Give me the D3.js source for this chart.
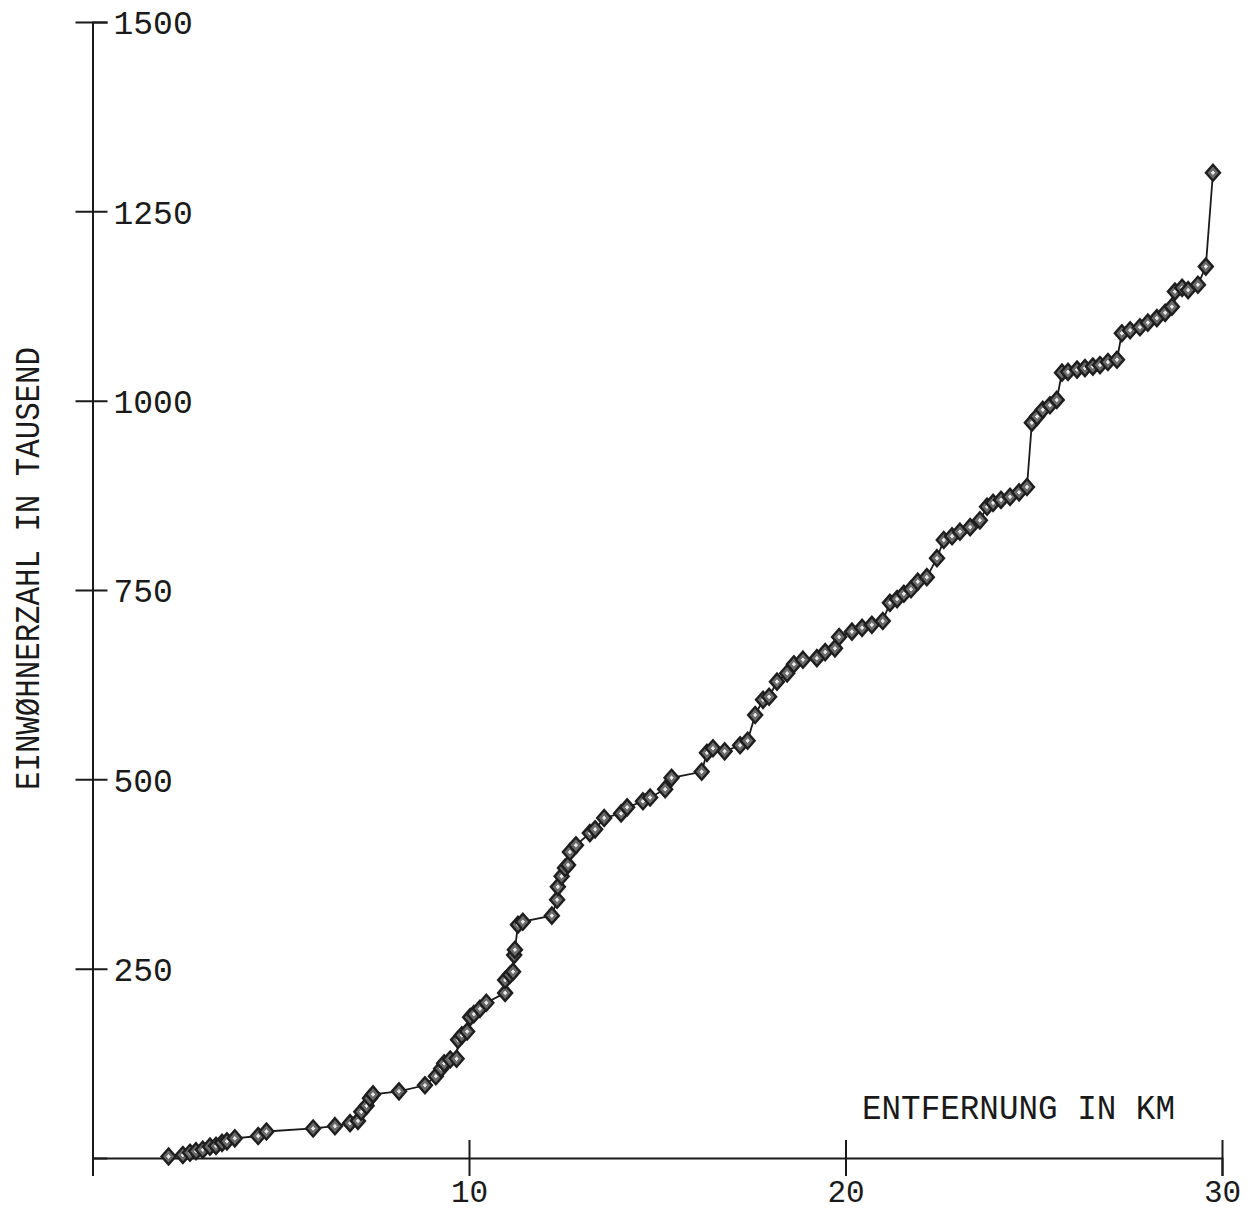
<!DOCTYPE html>
<html>
<head>
<meta charset="utf-8">
<script src="https://cdn.jsdelivr.net/npm/d3@7"></script>
<style>
  html, body { margin: 0; padding: 0; background: #fff; }
  svg { display: block; }
  text { font-family: "Liberation Mono", "DejaVu Sans Mono", monospace; fill: #1a1a1a; }
</style>
</head>
<body>
<svg id="chart" width="1247" height="1212"></svg>
<script>
// Cumulative population (thousands) against distance from the site (km)
const distanceKm = [
  2.02, 2.40, 2.59, 2.75, 2.93, 3.12, 3.28, 3.44, 3.57, 3.78,
  4.40, 4.62, 5.86, 6.44, 6.84, 7.05, 7.14, 7.28, 7.37, 7.45,
  8.14, 8.83, 9.12, 9.26, 9.34, 9.50, 9.67, 9.71, 9.81, 9.95,
  10.03, 10.13, 10.29, 10.46, 10.96, 10.96, 11.09, 11.17, 11.20, 11.22,
  11.30, 11.43, 12.20, 12.34, 12.36, 12.46, 12.55, 12.63, 12.68, 12.84,
  13.21, 13.35, 13.59, 14.04, 14.20, 14.62, 14.81, 15.21, 15.38, 16.18,
  16.32, 16.48, 16.79, 17.20, 17.40, 17.60, 17.81, 17.97, 18.18, 18.45,
  18.63, 18.87, 19.24, 19.46, 19.72, 19.83, 20.17, 20.44, 20.70, 20.99,
  21.18, 21.37, 21.55, 21.74, 21.92, 22.16, 22.43, 22.61, 22.83, 23.04,
  23.31, 23.57, 23.76, 23.92, 24.13, 24.37, 24.61, 24.82, 24.95, 25.09,
  25.24, 25.43, 25.61, 25.75, 25.91, 26.15, 26.36, 26.57, 26.76, 26.97,
  27.21, 27.34, 27.56, 27.82, 28.03, 28.27, 28.49, 28.67, 28.75, 28.94,
  29.10, 29.36, 29.57, 29.76
];
const populationThousand = [
  2, 4, 7, 9, 11, 15, 16, 20, 22, 26,
  29, 35, 39, 42, 46, 49, 61, 69, 79, 84,
  88, 96, 108, 118, 125, 130, 131, 156, 162, 167,
  186, 190, 197, 205, 218, 235, 242, 246, 268, 275,
  308, 312, 320, 341, 358, 372, 383, 387, 404, 413,
  429, 434, 449, 455, 463, 471, 476, 487, 502, 510,
  535, 541, 537, 545, 551, 585, 605, 609, 629, 640,
  652, 658, 660, 668, 673, 688, 695, 700, 704, 709,
  733, 738, 745, 751, 761, 767, 792, 816, 821, 827,
  833, 842, 860, 865, 869, 873, 879, 886, 971, 979,
  988, 994, 1001, 1037, 1038, 1041, 1043, 1045, 1047, 1051,
  1054, 1089, 1093, 1097, 1103, 1109, 1116, 1124, 1144, 1149,
  1146, 1153, 1177, 1301
];
const xTickValues = [10, 20, 30];
const yTickValues = [250, 500, 750, 1000, 1250, 1500];
const xTitle = "ENTFERNUNG IN KM";
const yTitle = "EINWØHNERZAHL IN TAUSEND";

const svg = d3.select("#chart");
const ink = "#1a1a1a";

const x = d3.scaleLinear().domain([0, 30]).range([92.5, 1222]);
const y = d3.scaleLinear().domain([0, 1500]).range([1158, 22]);

// Vertical axis: ticks cross the axis line, labels sit to the right
const gy = svg.append("g")
  .attr("transform", `translate(${x(0)},0)`)
  .call(d3.axisRight(y).tickValues(yTickValues).tickFormat(d3.format("d"))
    .tickSizeOuter(0).tickSize(15).tickPadding(7));
gy.select(".domain").attr("stroke", ink).attr("stroke-width", 2);
gy.selectAll(".tick line").attr("x1", -17).attr("x2", 15).attr("stroke", ink).attr("stroke-width", 2);
gy.selectAll(".tick text")
  .attr("x", 21).attr("dy", "0.36em")
  .attr("font-size", 33).attr("font-family", null).attr("fill", ink)
  .attr("text-anchor", "start");

// Horizontal axis
const gx = svg.append("g")
  .attr("transform", `translate(0,${y(0)})`)
  .call(d3.axisBottom(x).tickValues(xTickValues).tickFormat(d3.format("d"))
    .tickSizeOuter(0).tickSize(18).tickPadding(26));
gx.select(".domain").attr("stroke", ink).attr("stroke-width", 2);
gx.selectAll(".tick line").attr("y1", -18).attr("y2", 18).attr("stroke", ink).attr("stroke-width", 2);
gx.selectAll(".tick text")
  .attr("y", 44).attr("dy", null)
  .attr("font-size", 31).attr("font-family", null).attr("fill", ink);

// Axis titles
svg.append("text")
  .attr("x", 862).attr("y", 1119)
  .attr("font-size", 35)
  .attr("textLength", 313).attr("lengthAdjust", "spacingAndGlyphs")
  .text(xTitle);

svg.append("text")
  .attr("transform", "translate(39,790) rotate(-90)")
  .attr("font-size", 35)
  .attr("textLength", 443).attr("lengthAdjust", "spacingAndGlyphs")
  .text(yTitle);

// Data line
const pts = distanceKm.map((d, i) => [d, populationThousand[i]]);
svg.append("path")
  .datum(pts)
  .attr("fill", "none")
  .attr("stroke", ink)
  .attr("stroke-width", 1.8)
  .attr("d", d3.line().x(d => x(d[0])).y(d => y(d[1])));

// Diamond markers: dark outline, grey body, small light core
const diamond = (rx, ry) => `M0,${-ry}L${rx},0L0,${ry}L${-rx},0Z`;
const marks = svg.append("g").selectAll("g").data(pts).join("g")
  .attr("transform", d => `translate(${x(d[0])},${y(d[1])})`);
marks.append("path")
  .attr("d", diamond(7, 8))
  .attr("fill", "#6a6a6a")
  .attr("stroke", "#1e1e1e")
  .attr("stroke-width", 2.4);
marks.append("path")
  .attr("d", diamond(2.6, 3))
  .attr("fill", "#e8e8e8")
  .attr("stroke", "#555")
  .attr("stroke-width", 0.8);
</script>
</body>
</html>
